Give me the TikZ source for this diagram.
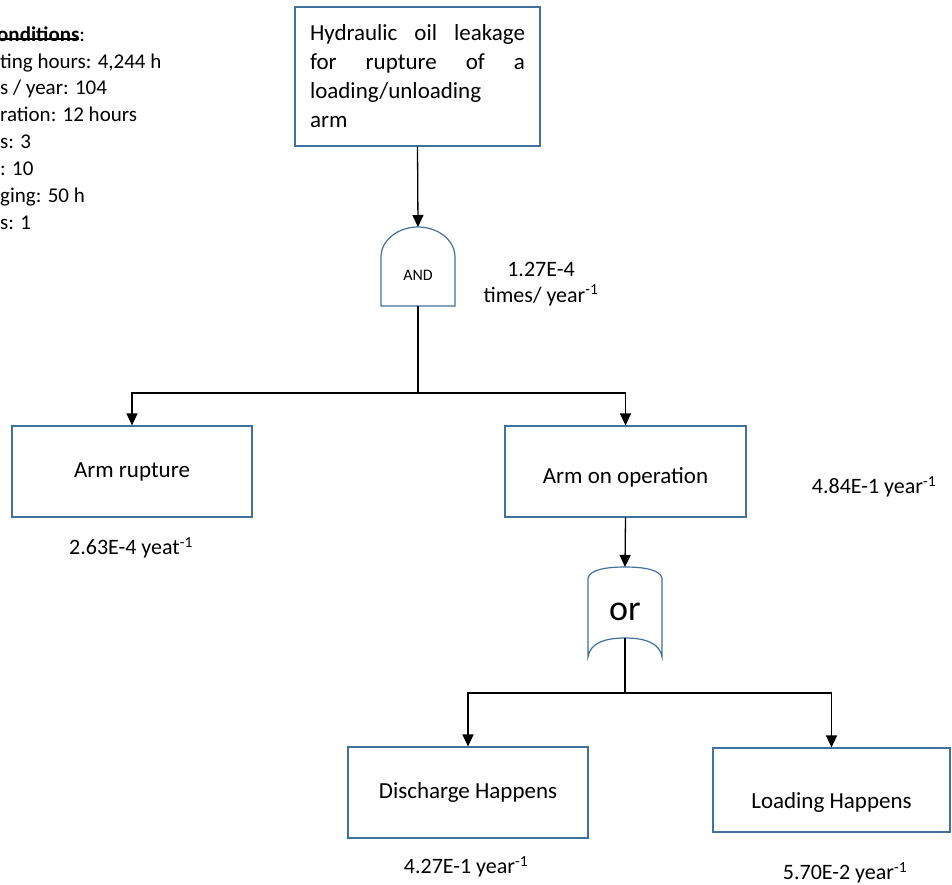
\documentclass[tikz,border=0pt]{standalone}
\usepackage{fontspec}
\setmainfont{Carlito}
\usetikzlibrary{arrows.meta}
\definecolor{bord}{HTML}{41719C}
\newcommand{\ulx}[1]{\setbox0\hbox{#1}\rlap{\rule[1.5pt]{\wd0}{1.2pt}}\box0}
\begin{document}
\begin{tikzpicture}[x=1pt,y=-1pt,
  box/.style={draw=bord, line width=1.2pt, fill=white, inner sep=0pt, font=\fontsize{23}{28}\selectfont},
  lbl/.style={font=\fontsize{22}{26}\selectfont, inner sep=0pt, align=center},
  cond/.style={font=\fontsize{21}{26}\selectfont, inner sep=0pt, anchor=base west},
  conn/.style={line width=1.3pt, draw=black},
  arr/.style={conn, -{Triangle[length=12pt,width=11pt]}},
  gate/.style={draw=bord, line width=1.2pt, fill=white}]
\useasboundingbox (0,0) rectangle (952,884);
\fill[white] (0,0) rectangle (952,884);

% conditions text (cut at left)
\node[cond] (c1) at (-3,41) {\bfseries\ulx{onditions}\mdseries:};
\node[cond] (c2) at (0,68) {ting hours: 4,244 h};
\node[cond] (c3) at (0,94) {s / year: 104};
\node[cond] (c4) at (0,121) {ration: 12 hours};
\node[cond] (c5) at (0,148) {s: 3};
\node[cond] (c6) at (0,175) {: 10};
\node[cond] (c7) at (0,202) {ging: 50 h};
\node[cond] (c8) at (0,229) {s: 1};

% top event
\node[box, minimum width=245pt, minimum height=139pt, align=left, font=\fontsize{23}{29}\selectfont] (top) at (417.5,76.5)
  {\makebox[215pt][s]{Hydraulic oil leakage}\\\makebox[215pt][s]{for rupture of a}\\loading/unloading\\arm};

% AND gate
\draw[gate] (381,306) -- (381,257) .. controls (381,240.4) and (397.6,227) .. (418,227)
  .. controls (438.4,227) and (455,240.4) .. (455,257) -- (455,306) -- cycle;
\node[font=\fontsize{16}{18}\selectfont, inner sep=0pt] (and) at (418,275) {AND};
\coordinate (andtop) at (418,227);
\coordinate (andbot) at (418,306);
\coordinate (s1) at (418,393);
\node[lbl] (l1) at (541,284) {1.27E-4\\times/ year\textsuperscript{-1}};

% level 2 boxes
\node[box, minimum width=240pt, minimum height=91pt] (ar) at (132,471.5) {Arm rupture};
\node[box, minimum width=241pt, minimum height=91pt] (ao) at (625.5,471.5) {\raisebox{-11.5pt}[0pt][0pt]{Arm on operation}};
\node[lbl] (l2) at (131,548) {2.63E-4 yeat\textsuperscript{-1}};
\node[lbl] (l3) at (874,487) {4.84E-1 year\textsuperscript{-1}};

% OR gate
\draw[gate] (588,578) .. controls (590,570) and (605,567) .. (625,567)
  .. controls (645,567) and (660,570) .. (662,578) -- (662,657)
  .. controls (660,643) and (645,638) .. (625,638)
  .. controls (605,638) and (590,643) .. (588,657) -- cycle;
\node[font=\fontsize{36}{40}\selectfont, inner sep=0pt] (or) at (625,612) {or};
\coordinate (ortop) at (625,567);
\coordinate (orbot) at (625,638);
\coordinate (s2) at (625,693);

% level 3 boxes
\node[box, minimum width=240pt, minimum height=91pt] (dh) at (468,792.5) {Discharge Happens};
\node[box, minimum width=237pt, minimum height=84pt] (lh) at (831.5,790) {\raisebox{-18.5pt}[0pt][0pt]{Loading Happens}};
\node[lbl] (l4) at (466,867) {4.27E-1 year\textsuperscript{-1}};
\node[lbl] (l5) at (845,873) {5.70E-2 year\textsuperscript{-1}};

% connectors
\draw[arr] (top.south) -- (andtop);
\draw[line width=2.6pt] (andbot) -- (s1);
\draw[arr] (s1) -| (ar.north);
\draw[arr] (s1) -| (ao.north);
\draw[arr] (ao.south) -- (ortop);
\draw[conn, line width=1.6pt] (orbot) -- (s2);
\draw[arr] (s2) -| (dh.north);
\draw[arr] (s2) -| (lh.north);
\end{tikzpicture}
\end{document}
